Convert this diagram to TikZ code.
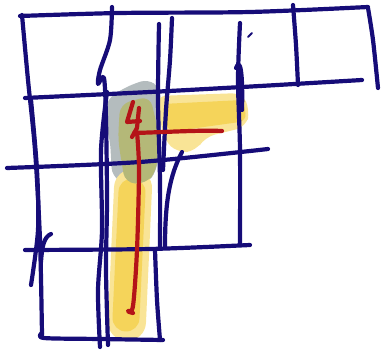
\documentclass[tikz,border=0pt]{standalone}
\definecolor{ink}{RGB}{22,12,120}
\definecolor{redink}{RGB}{180,20,24}
\definecolor{hlyel}{RGB}{245,212,90}
\definecolor{hllight}{RGB}{249,228,150}
\definecolor{hlgray}{RGB}{180,188,190}
\definecolor{hlgreen}{RGB}{180,184,120}
\tikzset{
  pen/.style={draw=ink, line width=4.2pt, line cap=round, line join=round},
  redpen/.style={draw=redink, line width=4.2pt, line cap=round, line join=round},
}
\begin{document}
\begin{tikzpicture}[x=1pt,y=-1pt]
\useasboundingbox (0,0) rectangle (381,350);
% highlights
\fill[hlgray, rounded corners=8pt] (108,98) -- (128,86) -- (148,79) -- (160,88) -- (161,120) -- (158,165) -- (150,182) -- (128,186) -- (112,176) -- (110,140) -- (104,120) -- cycle;
\fill[hllight, rounded corners=10pt] (156,96) -- (242,93) -- (250,110) -- (246,127) -- (205,137) -- (196,151) -- (178,153) -- (164,140) -- cycle;
\fill[hlyel, rounded corners=8pt] (162,104) -- (243,100) -- (247,121) -- (168,132) -- cycle;
\draw[hllight, line width=38pt, line cap=round] (133,188) -- (127,322);
\draw[hlyel, line width=27pt, line cap=round] (132,192) -- (126,318);
\fill[hlgreen, rounded corners=10pt] (120,104) -- (150,96) -- (158,130) -- (157,170) -- (146,184) -- (125,183) -- (118,140) -- cycle;
% grid strokes
\draw[pen] plot[smooth] coordinates {(20,16) (120,13) (250,12) (368,7)};
\draw[pen] plot[smooth] coordinates {(368,8) (373,40) (378,88)};
\draw[pen] plot[smooth] coordinates {(25,98) (150,92) (260,86) (362,80)};
\draw[pen] plot[smooth] coordinates {(7,168) (140,162) (268,149)};
\draw[pen] plot[smooth] coordinates {(25,250) (150,249) (250,245)};
\draw[pen] plot[smooth] coordinates {(42,333) (44,338) (100,339) (163,340)};
% verticals
\draw[pen] plot[smooth] coordinates {(22,15) (28,80) (35,150) (40,240) (42,335)};
\draw[pen] plot[smooth] coordinates {(31,100) (37,170) (38,230) (31,285)};
\draw[pen] (51,234) .. controls (44,237) and (42,246) .. (41,262);
\draw[pen] plot[smooth] coordinates {(112,7) (110,40) (100,70) (98,84) (104,78) (106,120) (107,200) (106,270) (108,345)};
\draw[pen] plot[smooth] coordinates {(107,92) (101,150) (102,230) (98,290) (100,347)};
\draw[pen] plot[smooth] coordinates {(159,24) (158,100) (160,180) (160,247)};
\draw[pen] plot[smooth] coordinates {(172,18) (170,60) (166,110) (163,170)};
\draw[pen] plot[smooth] coordinates {(155,250) (157,300) (160,340)};
\draw[pen] (182,152) .. controls (170,175) and (165,200) .. (165,247);
\draw[pen] plot[smooth] coordinates {(240,23) (238,80) (240,150) (240,245)};
\draw[pen] (236,68) .. controls (240,58) and (243,70) .. (242,110);
\draw[pen, line width=2pt] (248,37) -- (252,33);
\draw[pen] plot[smooth] coordinates {(293,5) (296,45) (298,85)};
% red strokes
\draw[redpen] (133,102) -- (127,122) -- (140,121);
\draw[redpen] (139,108) -- (137,128) -- (132,137);
\draw[redpen] (134,133) .. controls (170,132) and (200,130) .. (222,131);
\draw[redpen] plot[smooth] coordinates {(137,132) (139,170) (137,250) (133,306) (128,311) (133,313)};
\end{tikzpicture}
\end{document}
